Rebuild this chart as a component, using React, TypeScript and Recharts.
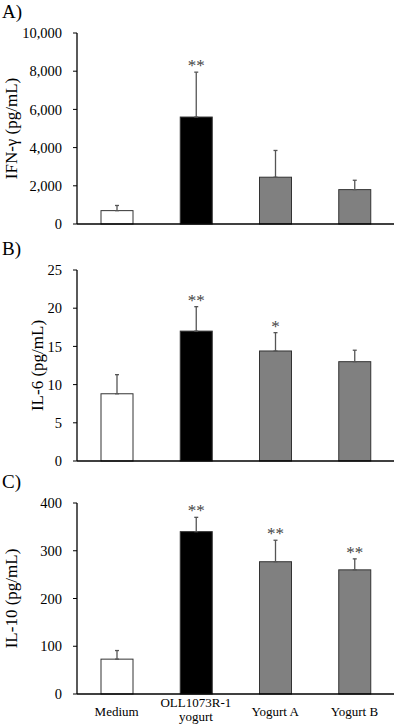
import React from 'react';
import { BarChart, Bar, XAxis, YAxis, ErrorBar } from 'recharts';

const categories = ['Medium', 'OLL1073R-1 yogurt', 'Yogurt A', 'Yogurt B'];
const fills = ['#ffffff', '#000000', '#808080', '#808080'];

const ifnMean = [700, 5600, 2450, 1800];
const ifnSd = [270, 2350, 1400, 490];
const ifnStars = ['', '**', '', ''];
const ifnTicks = [0, 2000, 4000, 6000, 8000, 10000];

const il6Mean = [8.8, 17.0, 14.4, 13.0];
const il6Sd = [2.5, 3.2, 2.4, 1.5];
const il6Stars = ['', '**', '*', ''];
const il6Ticks = [0, 5, 10, 15, 20, 25];

const il10Mean = [73, 340, 277, 260];
const il10Sd = [18, 30, 45, 23];
const il10Stars = ['', '**', '**', '**'];
const il10Ticks = [0, 100, 200, 300, 400];

const FONT = '"Liberation Serif", "Times New Roman", serif';

const build = (mean: number[], sd: number[], stars: string[]) =>
  categories.map((c, i) => ({ name: c, mean: mean[i], sd: sd[i], err: [0, sd[i]], star: stars[i], fill: fills[i] }));

const BarShape = (p: any) => {
  const { x, y, width, height, payload } = p;
  const errTop = payload.mean ? y - (payload.sd * height) / payload.mean : y;
  return (
    <g>
      <rect x={x} y={y} width={width} height={height} fill={payload.fill} stroke="#333" strokeWidth={1} />
      {payload.star && (
        <text x={x + width / 2} y={errTop - 1} textAnchor="middle" fontFamily={FONT} fontSize={17} fill="#444">
          {payload.star}
        </text>
      )}
    </g>
  );
};

const CatTick = ({ x, y, payload }: any) => {
  const v: string = payload.value;
  if (v.startsWith('OLL')) {
    return (
      <g>
        <text x={x} y={y + 5} textAnchor="middle" fontFamily={FONT} fontSize={13} fill="#000">OLL1073R-1</text>
        <text x={x} y={y + 19} textAnchor="middle" fontFamily={FONT} fontSize={13} fill="#000">yogurt</text>
      </g>
    );
  }
  return (
    <text x={x} y={y + 14} textAnchor="middle" fontFamily={FONT} fontSize={13} fill="#000">
      {v}
    </text>
  );
};

interface PanelProps {
  top: number;
  height: number;
  letter: string;
  ylabel: string;
  labelX: number;
  data: any[];
  ticks: number[];
  fmt?: (v: number) => string;
  showCats?: boolean;
}

const Panel = ({ top, height, letter, ylabel, labelX, data, ticks, fmt, showCats }: PanelProps) => (
  <div style={{ position: 'absolute', left: 0, top, width: 395, height }}>
    <div style={{ position: 'absolute', left: 2, top: 1, fontFamily: FONT, fontSize: 19, lineHeight: '22px' }}>{letter}</div>
    <BarChart width={395} height={height} data={data} margin={{ top: 33, right: 1, bottom: 0, left: 0 }} barSize={32}>
      <XAxis
        dataKey="name"
        axisLine={{ stroke: '#000', strokeWidth: 1.3 }}
        tickLine={false}
        tick={showCats ? <CatTick /> : false}
        height={showCats ? 30 : 12}
        interval={0}
      />
      <YAxis
        width={77}
        domain={[0, ticks[ticks.length - 1]]}
        ticks={ticks}
        interval={0}
        tickFormatter={fmt}
        axisLine={{ stroke: '#000', strokeWidth: 1.3 }}
        tickLine={{ stroke: '#000' }}
        tickSize={4}
        tickMargin={11}
        tick={{ fontFamily: FONT, fontSize: 14.5, fill: '#000' }}
        label={{
          content: (lp: any) => {
            const vb = lp.viewBox || {};
            const cy = (vb.y ?? 33) + (vb.height ?? 191) / 2;
            return (
              <text x={labelX} y={cy} transform={`rotate(-90 ${labelX} ${cy})`} textAnchor="middle" dominantBaseline="central" fontFamily={FONT} fontSize={17} fill="#000">
                {ylabel}
              </text>
            );
          },
        }}
      />
      <Bar dataKey="mean" shape={<BarShape />} isAnimationActive={false}>
        <ErrorBar dataKey="err" width={2} stroke="#555" strokeWidth={1.3} isAnimationActive={false} />
      </Bar>
    </BarChart>
  </div>
);

export default function App() {
  return (
    <div style={{ position: 'absolute', left: 0, top: 0, width: 395, height: 724, background: '#fff', overflow: 'hidden' }}>
      <Panel top={0} height={236} letter="A)" ylabel="IFN-γ (pg/mL)" labelX={11} data={build(ifnMean, ifnSd, ifnStars)} ticks={ifnTicks} fmt={(v) => v.toLocaleString('en-US')} />
      <Panel top={237} height={236} letter="B)" ylabel="IL-6 (pg/mL)" labelX={37} data={build(il6Mean, il6Sd, il6Stars)} ticks={il6Ticks} />
      <Panel top={470} height={254} letter="C)" ylabel="IL-10 (pg/mL)" labelX={11} data={build(il10Mean, il10Sd, il10Stars)} ticks={il10Ticks} showCats />
    </div>
  );
}
